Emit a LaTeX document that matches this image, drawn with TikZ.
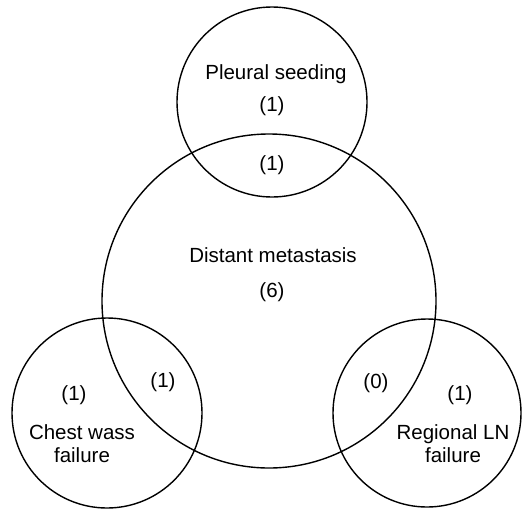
\documentclass[tikz,border=0pt]{standalone}
\usepackage{fontspec}
\setmainfont{Liberation Sans}
\usepackage{tikz}

\tikzset{
	ring/.style={line width=1.4pt, color=black},
	lbl/.style={font=\fontsize{20.5}{23}\selectfont, align=center, inner sep=0pt}
}

\begin{document}
\begin{tikzpicture}[x=1pt, y=-1pt]
		%%%%% START %%%%%
		\useasboundingbox (0, 0) rectangle (529, 509);
		
		\draw[ring] (272, 102) circle (95pt);
		\draw[ring] (269, 301) circle (167pt);
		\draw[ring] (107, 413) circle (95pt);
		\draw[ring] (427, 413) circle (94pt);
		
		\node[lbl] (pleural) at (276, 74) {Pleural seeding};
		\node[lbl] (pleuralN) at (272, 106) {(1)};
		\node[lbl] (pleuralDist) at (272, 165) {(1)};
		
		\node[lbl] (dist) at (273, 255) {Distant metastasis};
		\node[lbl] (distN) at (272, 292) {(6)};
		
		\node[lbl] (chestN) at (74, 395) {(1)};
		\node[lbl] (chestDist) at (163, 382) {(1)};
		\node[lbl] (chest) at (82, 444) {Chest wass\\failure};
		
		\node[lbl] (regDist) at (376, 383) {(0)};
		\node[lbl] (regN) at (460, 395) {(1)};
		\node[lbl] (reg) at (453, 444) {Regional LN\\failure};
		
		%%%%% END %%%%%
	\end{tikzpicture}
\end{document}
